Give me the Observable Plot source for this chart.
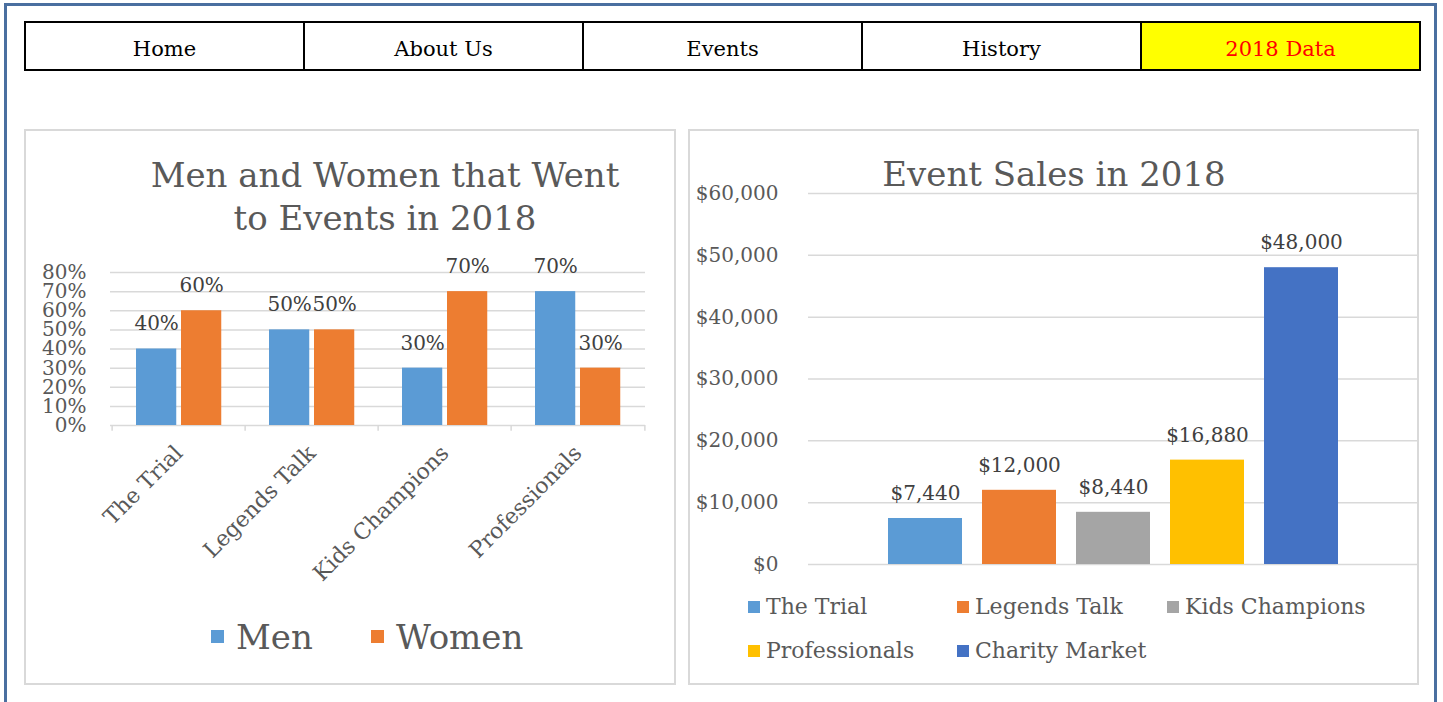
<!DOCTYPE html>
<html>
<head>
<meta charset="utf-8">
<script src="https://cdn.jsdelivr.net/npm/d3@7"></script>
<script src="https://cdn.jsdelivr.net/npm/@observablehq/plot@0.6"></script>
<style>
  html, body { margin: 0; padding: 0; background: #fff; }
  body { width: 1443px; height: 702px; overflow: hidden; position: relative; font-family: "DejaVu Serif", serif; }
  #frame { position: absolute; left: 4px; top: 3px; width: 1427px; height: 700px; border: 3px solid #4a6fa0; border-bottom: none; box-sizing: content-box; }
  #nav { position: absolute; left: 24px; top: 21px; width: 1397px; height: 50px; border-collapse: collapse; table-layout: fixed; }
  #nav td { border: 2px solid #000; text-align: center; vertical-align: middle; font-size: 21px; color: #000; padding: 5px 0 0 0; }
  #nav td.active { background: #ffff00; color: #ff0000; }
  .panel { position: absolute; top: 129px; height: 556px; border: 2px solid #d9d9d9; box-sizing: border-box; background: #fff; }
  .title { position: absolute; text-align: center; color: #595959; font-size: 34px; line-height: 43px; white-space: nowrap; }
  .chart { position: absolute; }
  #leftChart g[aria-label="x-axis tick label"] { font-size: 22px; }
  .legend-item { position: absolute; display: flex; align-items: center; color: #595959; white-space: nowrap; }
  .swatch { display: inline-block; flex: none; }
</style>
</head>
<body>
<div id="frame"></div>
<table id="nav"><tr id="navrow"></tr></table>
<div class="panel" style="left:24px;width:652px;"></div>
<div class="panel" style="left:688px;width:731px;"></div>
<div id="leftChart" class="chart" style="left:25px;top:240px;"></div>
<div id="rightChart" class="chart" style="left:689px;top:150px;"></div>
<div class="title" style="left:135px;top:154px;width:500px;">Men and Women that Went<br>to Events in 2018</div>
<div class="title" style="left:854px;top:153px;width:400px;">Event Sales in 2018</div>
<div id="leftLegend"></div>
<div id="rightLegend"></div>
<script>
// ---- Data ----
const navItems = ["Home", "About Us", "Events", "History", "2018 Data"];
const events = ["The Trial", "Legends Talk", "Kids Champions", "Professionals"];
const series = ["Men", "Women"];
const menShare = [0.40, 0.50, 0.30, 0.70];
const womenShare = [0.60, 0.50, 0.70, 0.30];
const leftTicks = [0, 0.1, 0.2, 0.3, 0.4, 0.5, 0.6, 0.7, 0.8];
const salesEvents = ["The Trial", "Legends Talk", "Kids Champions", "Professionals", "Charity Market"];
const salesValues = [7440, 12000, 8440, 16880, 48000];
const rightTicks = [0, 10000, 20000, 30000, 40000, 50000, 60000];
const seriesColors = ["#5B9BD5", "#ED7D31"];
const salesColors = ["#5B9BD5", "#ED7D31", "#A5A5A5", "#FFC000", "#4472C4"];

const FONT = '"DejaVu Serif", serif';
const pct = d3.format(".0%");
const money = d => "$" + d3.format(",")(d);

// ---- Nav ----
const row = document.getElementById("navrow");
navItems.forEach((t, i) => {
  const td = document.createElement("td");
  td.textContent = t;
  if (i === navItems.length - 1) td.className = "active";
  row.appendChild(td);
});

// ---- Left chart ----
const menData = events.map((e, i) => ({event: e, value: menShare[i]}));
const womenData = events.map((e, i) => ({event: e, value: womenShare[i]}));
const bw = (645 - 110) / events.length;
const left = Plot.plot({
  width: 650, height: 355,
  marginLeft: 85, marginRight: 30, marginTop: 32, marginBottom: 170,
  style: {fontFamily: FONT, fontSize: "20px", color: "#595959", background: "transparent", overflow: "visible"},
  x: {domain: events, padding: 0, label: null, tickSize: 0, tickRotate: -45, tickPadding: 24},
  y: {domain: [0, 0.8], ticks: leftTicks, tickFormat: pct, tickSize: 0, tickPadding: 24, label: null},
  marks: [
    Plot.ruleY(leftTicks, {stroke: "#d9d9d9", strokeWidth: 1.5}),
    Plot.ruleX(events, {x: d => d, y1: 0, y2: -0.03, dx: -bw / 2, stroke: "#d9d9d9", strokeWidth: 1.5}),
    Plot.ruleX(events.slice(-1), {x: d => d, y1: 0, y2: -0.03, dx: bw / 2, stroke: "#d9d9d9", strokeWidth: 1.5}),
    Plot.barY(menData, {x: "event", y: "value", fill: seriesColors[0], insetLeft: 24, insetRight: bw - 65}),
    Plot.barY(womenData, {x: "event", y: "value", fill: seriesColors[1], insetLeft: 69, insetRight: bw - 110}),
    Plot.text(menData, {x: "event", y: "value", text: d => pct(d.value), dx: 44.5 - bw / 2, dy: -25, fill: "#404040"}),
    Plot.text(womenData, {x: "event", y: "value", text: d => pct(d.value), dx: 89.5 - bw / 2, dy: -25, fill: "#404040"})
  ]
});
document.getElementById("leftChart").appendChild(left);

// ---- Right chart ----
const sales = salesEvents.map((e, i) => ({event: e, value: salesValues[i]}));
const right = Plot.plot({
  width: 729, height: 430,
  marginLeft: 119, marginRight: 0, marginTop: 43, marginBottom: 16,
  style: {fontFamily: FONT, fontSize: "20px", color: "#595959", background: "transparent", overflow: "visible"},
  x: {domain: salesEvents, paddingInner: 0.213, paddingOuter: 0.85, axis: null},
  y: {domain: [0, 60000], ticks: rightTicks, tickFormat: money, tickSize: 0, tickPadding: 30, label: null},
  color: {domain: salesEvents, range: salesColors},
  marks: [
    Plot.ruleY(rightTicks, {stroke: "#d9d9d9", strokeWidth: 1.5}),
    Plot.barY(sales, {x: "event", y: "value", fill: "event"}),
    Plot.text(sales, {x: "event", y: "value", text: d => money(d.value), dy: -25, fill: "#404040"})
  ]
});
document.getElementById("rightChart").appendChild(right);

// ---- Legends ----
function legendItem(parent, label, color, x, y, sq, gap, fontSize) {
  const div = document.createElement("div");
  div.className = "legend-item";
  div.style.left = x + "px";
  div.style.top = (y - fontSize * 0.7) + "px";
  div.style.height = (fontSize * 1.4) + "px";
  div.style.fontSize = fontSize + "px";
  const s = document.createElement("span");
  s.className = "swatch";
  s.style.width = sq + "px"; s.style.height = sq + "px"; s.style.background = color;
  s.style.marginRight = gap + "px";
  div.appendChild(s);
  div.appendChild(document.createTextNode(label));
  parent.appendChild(div);
}
const ll = document.getElementById("leftLegend");
const leftLegendX = [211, 371];
series.forEach((s, i) => legendItem(ll, s, seriesColors[i], leftLegendX[i], 637, 13, 12, 34));
const rl = document.getElementById("rightLegend");
const rightLegendX = [748, 957, 1167];
salesEvents.forEach((s, i) => legendItem(rl, s, salesColors[i], rightLegendX[i % 3], 607 + Math.floor(i / 3) * 44, 12, 6, 22));
</script>
</body>
</html>
